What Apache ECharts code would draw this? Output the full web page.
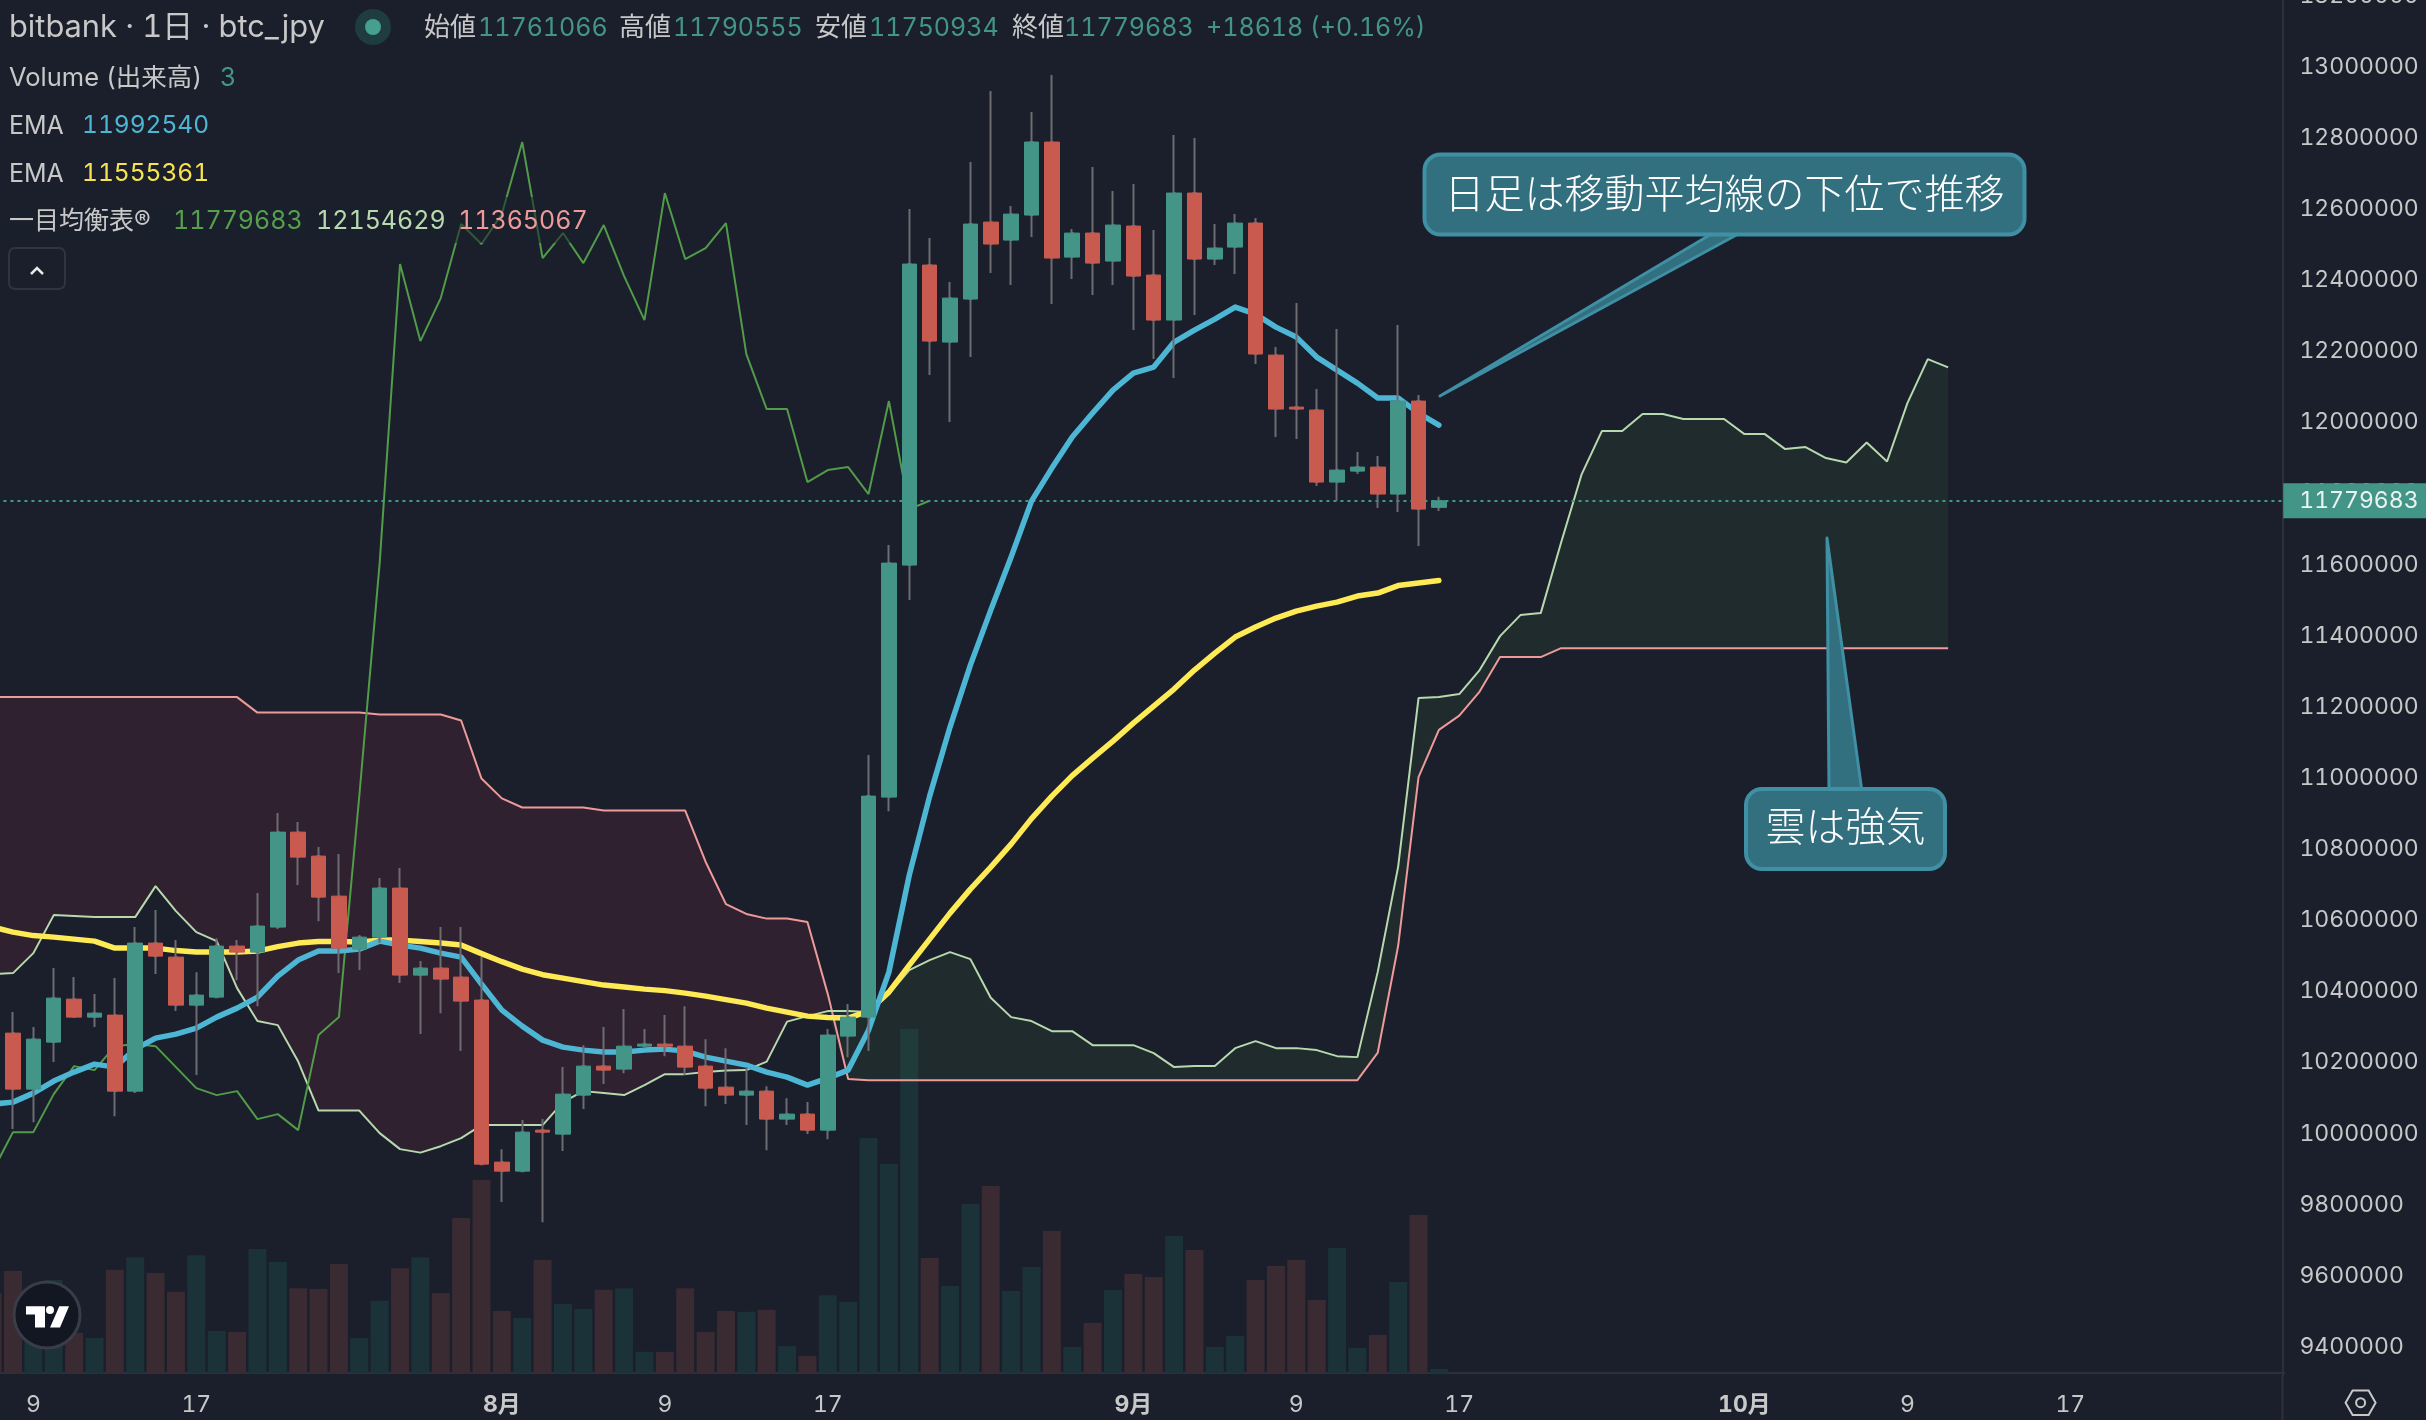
<!DOCTYPE html>
<html><head><meta charset="utf-8">
<style>html,body{margin:0;padding:0;background:#1a1f2b}#c{width:2426px;height:1420px;font-feature-settings:"tnum";font-variant-numeric:tabular-nums}#c canvas{font-feature-settings:"tnum";font-variant-numeric:tabular-nums}</style>
<script src="https://cdn.jsdelivr.net/npm/echarts@6/dist/echarts.min.js"></script>
</head><body><div id="c"></div>
<script>
const categories = ["7/7","7/8","7/9","7/10","7/11","7/12","7/13","7/14","7/15","7/16","7/17","7/18","7/19","7/20","7/21","7/22","7/23","7/24","7/25","7/26","7/27","7/28","7/29","7/30","7/31",
"8/1","8/2","8/3","8/4","8/5","8/6","8/7","8/8","8/9","8/10","8/11","8/12","8/13","8/14","8/15","8/16","8/17","8/18","8/19","8/20","8/21","8/22","8/23","8/24","8/25","8/26","8/27","8/28","8/29","8/30","8/31",
"9/1","9/2","9/3","9/4","9/5","9/6","9/7","9/8","9/9","9/10","9/11","9/12","9/13","9/14","9/15","9/16","9/17","9/18","9/19","9/20","9/21","9/22","9/23","9/24","9/25","9/26","9/27","9/28","9/29","9/30",
"10/1","10/2","10/3","10/4","10/5","10/6","10/7","10/8","10/9","10/10","10/11","10/12","10/13","10/14","10/15","10/16","10/17","10/18","10/19","10/20","10/21","10/22","10/23","10/24","10/25","10/26","10/27"];
const xTickLabels = {"7/9":"9","7/17":"17","8/1":"8月","8/9":"9","8/17":"17","9/1":"9月","9/9":"9","9/17":"17","10/1":"10月","10/9":"9","10/17":"17"};
const yTicks = [9400000,9600000,9800000,10000000,10200000,10400000,10600000,10800000,11000000,11200000,11400000,11600000,11800000,12000000,12200000,12400000,12600000,12800000,13000000,13200000];

// [open, close, low, high]
const candles = [
[10375500,10274300,10234900,10403600],[10282700,10125200,10012800,10341800],[10125200,10265800,10032400,10299600],[10257400,10381100,10201200,10465500],
[10378300,10327700,10327700,10440200],[10327700,10338900,10299600,10392400],[10333300,10119600,10049300,10437400],[10119600,10535800,10114000,10580800],
[10535800,10499200,10448600,10628600],[10496400,10361400,10344600,10544200],[10361400,10389600,10164600,10454200],[10383900,10527400,10381100,10549800],
[10527400,10510500,10431700,10544200],[10510500,10583600,10358600,10676400],[10580800,10847900,10575200,10901300],[10847900,10777600,10698900,10876000],
[10780400,10665100,10597600,10805700],[10667900,10521700,10451400,10786100],[10518900,10552600,10459900,10558300],[10552600,10690400,10535800,10718600],
[10690400,10445800,10423300,10746700],[10445800,10465500,10279900,10485200],[10465500,10434600,10338900,10580800],[10440200,10372700,10232100,10580800],
[10375500,9914300,9911500,10496400],[9920000,9894600,9807500,9956500],[9894600,10004300,9891800,10038100],[10009900,10004300,9751200,10040900],
[9998700,10111200,9950900,10187100],[10108400,10189900,10069000,10248900],[10189900,10178700,10139300,10299600],[10181500,10246100,10170200,10350200],
[10246100,10251800,10240500,10294000],[10251800,10246100,10218000,10333300],[10246100,10187100,10164600,10358600],[10189900,10128000,10077400,10265800],
[10130800,10108400,10083100,10240500],[10108400,10119600,10024000,10187100],[10119600,10040900,9953700,10133600],[10040900,10055000,10024000,10099900],
[10055000,10009900,9998700,10088700],[10009900,10277100,9984600,10294000],[10274300,10327700,10215200,10364300],[10327700,10949100,10232100,11064400],
[10946300,11604300,10906900,11654900],[11598700,12445100,11500300,12599800],[12442300,12228600,12133000,12518200],[12225800,12349500,12000800,12394500],
[12346700,12557600,12183600,12732000],[12563200,12501400,12419800,12931600],[12512600,12585700,12386100,12608200],[12582900,12788200,12521000,12872600],
[12788200,12462000,12332700,12976600],[12464800,12532300,12403000,12543500],[12532300,12447900,12358000,12717900],[12453600,12554800,12386100,12650400],
[12552000,12411400,12259500,12670100],[12414200,12287700,12178000,12540700],[12287700,12644800,12124600,12807900],[12644800,12459200,12301700,12799400],
[12459200,12490100,12442300,12557600],[12492900,12560400,12417000,12585700],[12560400,12192100,12163900,12574500],[12189200,12037400,11958700,12211800],
[12043000,12037400,11953100,12335400],[12034600,11832100,11820900,12093600],[11832100,11865900,11778700,12262400],[11863000,11874300,11854600,11916500],
[11874300,11798400,11759000,11905300],[11798400,12059900,11747800,12273600],[12059900,11756200,11652200,12076800],[11761066,11779683,11750934,11790555]];

const volumes = [60,76.5,37.6,69.8,30,26.3,77.4,86.9,75,60.9,88.4,31.5,30.9,93,83.2,63.6,63,81.7,26.3,54.2,78.6,86.9,60,116.3,144.7,46.5,41.3,84.8,51.7,48,62.4,63.6,15.9,15.9,63.6,30.9,46.5,45.9,47.4,20.2,12.9,58.4,53.2,176.3,156.8,258,86.3,65.3,126.8,140.3,61.5,79.5,106.5,19.5,37.5,62.3,74.3,72,102.8,92.3,19.5,27.8,69.8,80.3,84.8,54.8,93.8,18.8,28.5,68.3,118.5,3];

const emaFast = [10083100,10088700,10114000,10147800,10173100,10195500,10187100,10237700,10268600,10279900,10296800,10327700,10353000,10383900,10443000,10488000,10513300,10513300,10518900,10541400,10530200,10521700,10507700,10496400,10420500,10347400,10302400,10263000,10243400,10234900,10229300,10229300,10234900,10237700,10232100,10215200,10204000,10192700,10173100,10159000,10136500,10156200,10178700,10291100,10454200,10727000,10949100,11143200,11317500,11472200,11621200,11778700,11871500,11958700,12026100,12090800,12138600,12155500,12225800,12259500,12290500,12324200,12304500,12267900,12239800,12183600,12147000,12110400,12068300,12068300,12026100,11992540];

const emaSlow = [10580800,10566700,10556900,10552600,10547000,10541400,10521700,10521700,10521700,10514700,10510500,10510500,10510500,10513300,10526000,10535800,10540000,10540000,10538600,10544200,10544200,10540000,10535800,10530200,10506300,10483500,10462800,10447000,10437400,10427600,10417700,10412100,10406400,10402200,10395200,10386800,10376900,10367100,10353000,10341800,10330500,10326300,10324900,10344600,10398000,10473900,10547000,10620100,10687600,10749400,10814200,10885900,10949100,11006800,11056000,11103800,11154400,11202300,11250000,11303500,11351300,11396300,11424400,11449700,11469400,11483400,11494700,11511600,11520000,11541100,11548100,11555361];

const chikou = [9894600,10004300,10004300,10111200,10189900,10178700,10246100,10251800,10246100,10187100,10128000,10108400,10119600,10040900,10055000,10009900,10277100,10327700,10949100,11604300,12445100,12228600,12349500,12557600,12501400,12585700,12788200,12462000,12532300,12447900,12554800,12411400,12287700,12644800,12459200,12490100,12560400,12192100,12037400,12037400,11832100,11865900,11874300,11798400,12059900,11756200,11779683];

const senkouA = [10448600,10451400,10507700,10614500,10611700,10608900,10608900,10608900,10696100,10625800,10566700,10541400,10409200,10316500,10305200,10202600,10064800,10064800,10064800,10001500,9956500,9946700,9964800,9987400,10024000,10024000,10024000,10024000,10088700,10119600,10114000,10108400,10136500,10167400,10167400,10173100,10177300,10178700,10202600,10315100,10330500,10344600,10344600,10341800,10392400,10459900,10488000,10510500,10490800,10382200,10327700,10316500,10288300,10288300,10248900,10248900,10248900,10226400,10187100,10189900,10189900,10240500,10260200,10240500,10240500,10234900,10218000,10215200,10455600,10750900,11224700,11227500,11236000,11303500,11399000,11458100,11463700,11662000,11852900,11975500,11975500,12023300,12023300,12009300,12009300,12009300,11967100,11967100,11924900,11930500,11899600,11887000,11943200,11890000,12054300,12178000,12154629];

const senkouB = [11227500,11227500,11227500,11227500,11227500,11227500,11227500,11227500,11227500,11227500,11227500,11227500,11227500,11183900,11183900,11183900,11183900,11183900,11183900,11178600,11178600,11178600,11178600,11161700,10998400,10942700,10917100,10917100,10917100,10917100,10908400,10908400,10908400,10908400,10908400,10764700,10645500,10617900,10604700,10604700,10594900,10392400,10153400,10150500,10150500,10150500,10150500,10150500,10150500,10150500,10150500,10150500,10150500,10150500,10150500,10150500,10150500,10150500,10150500,10150500,10150500,10150500,10150500,10150500,10150500,10150500,10150500,10150500,10228100,10528300,11002600,11135300,11175300,11243000,11340000,11340000,11340000,11365067,11365067,11365067,11365067,11365067,11365067,11365067,11365067,11365067,11365067,11365067,11365067,11365067,11365067,11365067,11365067,11365067,11365067,11365067,11365067];

const lastPrice = 11779683;
const headerRow = [["始値","11761066"],["高値","11790555"],["安値","11750934"],["終値","11779683"]];

const BG='#1a1f2b', UP='#439588', DOWN='#c95a4f', WICK='#6c6c72', TXT='#c8c8c8';
const FONT='Inter, "Noto Sans CJK JP", sans-serif';
const chart = echarts.init(document.getElementById('c'), null, {renderer:'canvas'});

const volumeData = volumes.map((v,i)=>({value:v,itemStyle:{color:candles[i][1]>=candles[i][0]?'#1b3239':'#3a2a31'}}));
const bodies = candles.map(c=>[c[0],c[1],Math.min(c[0],c[1]),Math.max(c[0],c[1])]);
const cloudData = senkouA.map((a,i)=>[i,a,senkouB[i]]);

function cloudRender(params, api){
  if(params.dataIndex!==0) return null;
  const children=[]; let run=[], sign=null;
  const flush=(s)=>{
    if(run.length<2) return;
    const top=run.map(p=>api.coord([p[0],p[1]]));
    const bot=run.slice().reverse().map(p=>api.coord([p[0],p[2]]));
    children.push({type:'polygon',shape:{points:top.concat(bot)},style:{fill:s>0?'rgba(80,160,70,0.10)':'rgba(235,60,90,0.10)'}});
  };
  for(let i=0;i<senkouA.length;i++){
    const a=senkouA[i], b=senkouB[i], s=a>=b?1:-1;
    if(sign!==null && s!==sign){
      const pa=senkouA[i-1], pb=senkouB[i-1], t=(pb-pa)/((a-pa)-(b-pb)), m=pa+t*(a-pa);
      run.push([i-1+t,m,m]); flush(sign); run=[[i-1+t,m,m]];
    }
    run.push([i,a,b]); sign=s;
  }
  flush(sign);
  return {type:'group',children};
}

function t(text,x,y,fill,size,extra){
  return Object.assign({type:'text',x,y,z:60,silent:true,style:{text,fill,font:(size||25)+'px '+FONT,verticalAlign:'middle',align:'left'}},extra||{});
}
const g=[];
// legend dim strip + header
g.push({type:'rect',z:55,silent:true,shape:{x:0,y:197,width:590,height:46},style:{fill:'rgba(26,31,43,0.55)'}});
g.push(t('bitbank · 1日 · btc_jpy',9,28,TXT,30.8));
g.push({type:'circle',z:60,silent:true,shape:{cx:373,cy:27,r:18},style:{fill:'#1f3c40'}});
g.push({type:'circle',z:61,silent:true,shape:{cx:373,cy:27,r:8},style:{fill:'#45a08f'}});
[[424,478],[619,673],[815,869],[1012,1064]].forEach((p,i)=>{
  g.push(t(headerRow[i][0],p[0],28,TXT,26));
  g.push(t(headerRow[i][1],p[1],28,UP,25));
});
g.push(t('+18618 (+0.16%)',1206,28,UP,25));
g.push(t('Volume (出来高)',9,78,TXT,25.5));
g.push(t('3',220,78,UP,25));
g.push(t('EMA',9,126,TXT,25));
g.push(t('11992540',82,126,'#4db6d4',24.5));
g.push(t('EMA',9,174,TXT,25));
g.push(t('11555361',82,174,'#f7e34f',24.5));
g.push(t('一目均衡表®',9,221,TXT,25));
g.push(t('11779683',173,221,'#569f4c',25));
g.push(t('12154629',316,221,'#b7d9ad',25));
g.push(t('11365067',458,221,'#ef9a9a',25));
g.push({type:'rect',z:60,silent:true,shape:{x:9,y:248,width:56,height:41,r:6},style:{fill:'none',stroke:'#30343f',lineWidth:2}});
g.push({type:'polyline',z:60,silent:true,shape:{points:[[31,274],[37,268],[43,274]]},style:{fill:'none',stroke:'#e8e8e8',lineWidth:2.5}});
// logo
g.push({type:'circle',z:60,silent:true,shape:{cx:47,cy:1315,r:33},style:{fill:'#131722',stroke:'#3a3d48',lineWidth:3}});
g.push({type:'polygon',z:61,silent:true,shape:{points:[[26,1306.3],[45,1306.3],[45,1327.5],[35,1327.5],[35,1314.5],[26,1314.5]]},style:{fill:'#fff'}});
g.push({type:'circle',z:61,silent:true,shape:{cx:50,cy:1310,r:4},style:{fill:'#fff'}});
g.push({type:'polygon',z:61,silent:true,shape:{points:[[69,1306.3],[60,1327.5],[50,1327.5],[59.3,1306.3]]},style:{fill:'#fff'}});
// lower extension of price axis and settings icon
g.push({type:'line',z:60,silent:true,shape:{x1:2282.5,y1:1375,x2:2282.5,y2:1420},style:{stroke:'#2d303c',lineWidth:2}});
g.push({type:'polygon',z:60,silent:true,shape:{points:[[2345.6,1402.7],[2352.6,1390.5],[2368.6,1390.5],[2375.6,1402.7],[2368.6,1415],[2352.6,1415]]},style:{fill:'none',stroke:TXT,lineWidth:2}});
g.push({type:'circle',z:60,silent:true,shape:{cx:2360.6,cy:1402.7,r:4.5},style:{fill:'none',stroke:TXT,lineWidth:2}});
// callouts
const CF='#33707f', CS='#3f8fa5', CJK='"Noto Sans CJK JP", sans-serif';
g.push({type:'polygon',z:70,silent:true,shape:{points:[[1713,233],[1740,233],[1440,396]]},style:{fill:CF,stroke:CS,lineWidth:3,lineJoin:'round'}});
g.push({type:'rect',z:71,silent:true,shape:{x:1424.5,y:154.5,width:600,height:80,r:16},style:{fill:CF,stroke:CS,lineWidth:4}});
g.push({type:'text',z:72,silent:true,x:1724.5,y:192.5,style:{text:'日足は移動平均線の下位で推移',fill:'#fff',font:'300 40px '+CJK,align:'center',verticalAlign:'middle'}});
g.push({type:'polygon',z:70,silent:true,shape:{points:[[1829,792],[1862,792],[1827,538]]},style:{fill:CF,stroke:CS,lineWidth:3,lineJoin:'round'}});
g.push({type:'rect',z:71,silent:true,shape:{x:1746,y:789,width:199,height:80,r:16},style:{fill:CF,stroke:CS,lineWidth:4}});
g.push({type:'text',z:72,silent:true,x:1845.5,y:826,style:{text:'雲は強気',fill:'#fff',font:'300 40px '+CJK,align:'center',verticalAlign:'middle'}});

chart.setOption({
  animation:false,
  backgroundColor:BG,
  grid:{left:-17.555,top:-4.4,width:2301.81,height:1379.4,containLabel:false,outerBoundsMode:'none'},
  xAxis:{type:'category',data:categories,boundaryGap:true,
    axisLine:{show:true,lineStyle:{color:'#2d303c',width:2}},axisTick:{show:false},splitLine:{show:false},
    axisLabel:{show:true,margin:18.5,fontFamily:FONT,fontSize:23,color:TXT,hideOverlap:false,
      interval:(idx,val)=>val in xTickLabels,
      formatter:(val)=>{const s=xTickLabels[val]||'';return s.endsWith('月')?'{m|'+s+'}':s;},
      rich:{m:{fontFamily:FONT,fontSize:23,fontWeight:700,color:TXT}}}},
  yAxis:[
    {type:'value',position:'right',offset:-1.8,min:9321400,max:13200000,scale:true,
      axisLine:{show:true,lineStyle:{color:'#2d303c',width:2}},axisTick:{show:false},splitLine:{show:false},
      axisLabel:{show:true,margin:17,hideOverlap:false,customValues:yTicks,fontFamily:FONT,fontSize:23,color:TXT,padding:[3,0,0,0],formatter:v=>String(v)}},
    {type:'value',show:false,min:-1.5,max:1033,splitLine:{show:false}}
  ],
  graphic:{elements:g},
  series:[
    {name:'Volume',type:'bar',yAxisIndex:1,barWidth:18,z:1,data:volumeData,silent:true},
    {name:'Cloud',type:'custom',z:2,renderItem:cloudRender,data:cloudData,encode:{x:0,y:[1,2]},silent:true,clip:true},
    {name:'SenkouB',type:'line',z:3,data:senkouB,showSymbol:false,silent:true,lineStyle:{color:'#ef9a9a',width:2}},
    {name:'SenkouA',type:'line',z:3,data:senkouA,showSymbol:false,silent:true,lineStyle:{color:'#b7d9ad',width:2}},
    {name:'Chikou',type:'line',z:3,data:chikou,showSymbol:false,silent:true,lineStyle:{color:'#529b48',width:2}},
    {name:'EMA slow',type:'line',z:4,data:emaSlow,showSymbol:false,silent:true,lineStyle:{color:'#fdea55',width:5.5,cap:'round',join:'round'}},
    {name:'EMA fast',type:'line',z:5,data:emaFast,showSymbol:false,silent:true,lineStyle:{color:'#4db6d4',width:5.5,cap:'round',join:'round'},
      markLine:{silent:true,symbol:'none',animation:false,
        lineStyle:{color:'#3f9a8c',type:[3,4],width:2},
        label:{show:true,position:'end',distance:-1,formatter:String(lastPrice),color:'#eaf4f1',backgroundColor:UP,fontFamily:FONT,fontSize:23,width:128,align:'left',padding:[7,0,5,16]},
        data:[{yAxis:lastPrice}]}},
    {name:'Wicks',type:'candlestick',z:6,barWidth:2,data:candles,silent:true,
      itemStyle:{color:WICK,color0:WICK,borderColor:WICK,borderColor0:WICK,borderWidth:2}},
    {name:'Bodies',type:'candlestick',z:7,barWidth:15,data:bodies,silent:true,
      itemStyle:{color:UP,color0:DOWN,borderColor:UP,borderColor0:DOWN,borderWidth:1}}
  ]
});
</script></body></html>
